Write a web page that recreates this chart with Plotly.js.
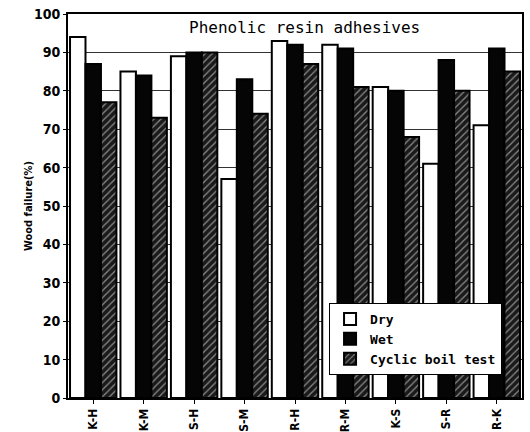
<!DOCTYPE html>
<html>
<head>
<meta charset="utf-8">
<script src="https://cdn.plot.ly/plotly-3.0.1.min.js"></script>
<style>html,body{margin:0;padding:0;background:#fff;}#chart{width:530px;height:432px;}</style>
</head>
<body>
<div id="chart"></div>
<script>
const categories = ["K-H", "K-M", "S-H", "S-M", "R-H", "R-M", "K-S", "S-R", "R-K"];
const dryValues = [94, 85, 89, 57, 93, 92, 81, 61, 71];
const wetValues = [87, 84, 90, 83, 92, 91, 80, 88, 91];
const cyclicValues = [77, 73, 90, 74, 87, 81, 68, 80, 85];
const yTicks = [0, 10, 20, 30, 40, 50, 60, 70, 80, 90, 100];

const monoFont = "DejaVu Sans Mono, Liberation Mono, monospace";
const narrowFont = "DejaVu Sans Condensed, Liberation Sans Narrow, Arial Narrow, sans-serif";

const traces = [
  {type: "bar", name: "Dry", x: categories, y: dryValues,
   marker: {color: "#ffffff", line: {color: "#000", width: 2}}},
  {type: "bar", name: "Wet", x: categories, y: wetValues,
   marker: {color: "#050505", line: {color: "#000", width: 2}}},
  {type: "bar", name: "Cyclic boil test", x: categories, y: cyclicValues,
   marker: {color: "#1a1a1a", line: {color: "#000", width: 2},
            pattern: {shape: "/", fgcolor: "#8a8a8a", bgcolor: "#1a1a1a", size: 5, solidity: 0.25}}}
];

const layout = {
  width: 530, height: 432,
  margin: {l: 68, r: 8, t: 14, b: 34},
  paper_bgcolor: "#fff", plot_bgcolor: "#fff",
  barmode: "group", bargap: 0.08, bargroupgap: 0,
  showlegend: true,
  legend: {x: 0.575, y: 0.06, xanchor: "left", yanchor: "bottom",
           bgcolor: "#fff", bordercolor: "#000", borderwidth: 1,
           font: {family: monoFont, size: 13, color: "#000", weight: "bold"},
           tracegroupgap: 2, itemwidth: 30},
  xaxis: {type: "category", tickangle: -90, showline: true, mirror: true,
          linecolor: "#000", linewidth: 2, ticks: "outside", ticklen: 4, tickcolor: "#000",
          tickfont: {family: narrowFont, size: 12, color: "#000", weight: "bold"}, showgrid: false},
  yaxis: {range: [0, 100], tickvals: yTicks, showline: true, mirror: true,
          linecolor: "#000", linewidth: 2, ticks: "outside", ticklen: 3, tickcolor: "#000",
          gridcolor: "#333", gridwidth: 1, zeroline: false,
          tickfont: {family: narrowFont, size: 14, color: "#000", weight: "bold"}},
  annotations: [
    {text: "Phenolic resin adhesives", xref: "paper", yref: "paper",
     x: 0.52, y: 0.995, xanchor: "center", yanchor: "top", showarrow: false,
     font: {family: monoFont, size: 16, color: "#000"}},
    {text: "Wood failure(%)", xref: "paper", yref: "paper",
     x: -0.088, y: 0.5, xanchor: "center", yanchor: "middle", textangle: -90, showarrow: false,
     font: {family: narrowFont, size: 11, color: "#000", weight: "bold"}}
  ]
};

Plotly.newPlot("chart", traces, layout, {staticPlot: true, displayModeBar: false});
</script>
</body>
</html>
